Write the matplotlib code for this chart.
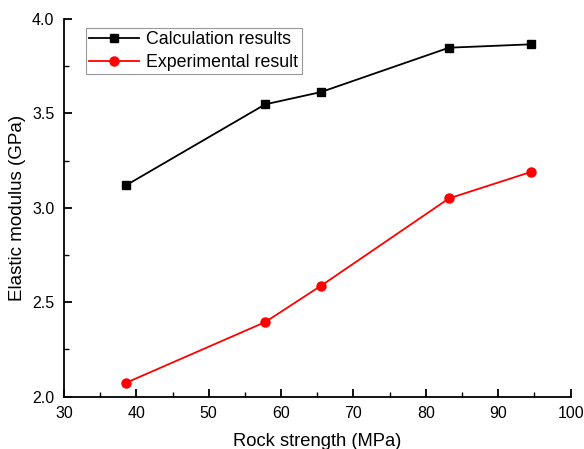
import matplotlib
matplotlib.use('Agg')
import matplotlib.pyplot as plt

plt.rcParams['font.family'] = ['Liberation Sans', 'DejaVu Sans']

strength = [38.6, 57.8, 65.5, 83.2, 94.6]
calc = [3.12, 3.548, 3.613, 3.848, 3.866]
exper = [2.074, 2.395, 2.587, 3.050, 3.191]

fig = plt.figure(figsize=(5.84, 4.49), dpi=100)
ax = fig.add_axes([0.1096, 0.1165, 0.8674, 0.8412])

ax.plot(strength, calc, color='black', marker='s', markersize=6.3, lw=1.3, label='Calculation results')
ax.plot(strength, exper, color='red', marker='o', markersize=6.5, lw=1.3, label='Experimental result')

ax.set_xlim(30, 100)
ax.set_ylim(2.0, 4.0)
ax.set_xticks(range(30, 101, 10))
ax.set_xticks(range(35, 100, 10), minor=True)
ax.set_yticks([2.0, 2.5, 3.0, 3.5, 4.0])
ax.set_yticks([2.25, 2.75, 3.25, 3.75], minor=True)
ax.spines['top'].set_visible(False)
ax.spines['right'].set_visible(False)
ax.spines['left'].set_linewidth(1.3)
ax.spines['bottom'].set_linewidth(1.3)
ax.tick_params(which='major', direction='in', length=6, width=1.3, labelsize=11.5, pad=7)
ax.tick_params(which='minor', direction='in', length=3.5, width=1.0)

ax.set_xlabel('Rock strength (MPa)', fontsize=13.2, labelpad=8)
ax.set_ylabel('Elastic modulus (GPa)', fontsize=13.5, labelpad=4)

leg = ax.legend(loc='upper left', bbox_to_anchor=(0.025, 1.0), fontsize=12.8, fancybox=False,
                edgecolor='gray', handlelength=2.8, borderpad=0.2, labelspacing=0.3, handletextpad=0.4,
                borderaxespad=0.5)
leg.get_frame().set_linewidth(0.8)

fig.savefig('out.png', dpi=100)
